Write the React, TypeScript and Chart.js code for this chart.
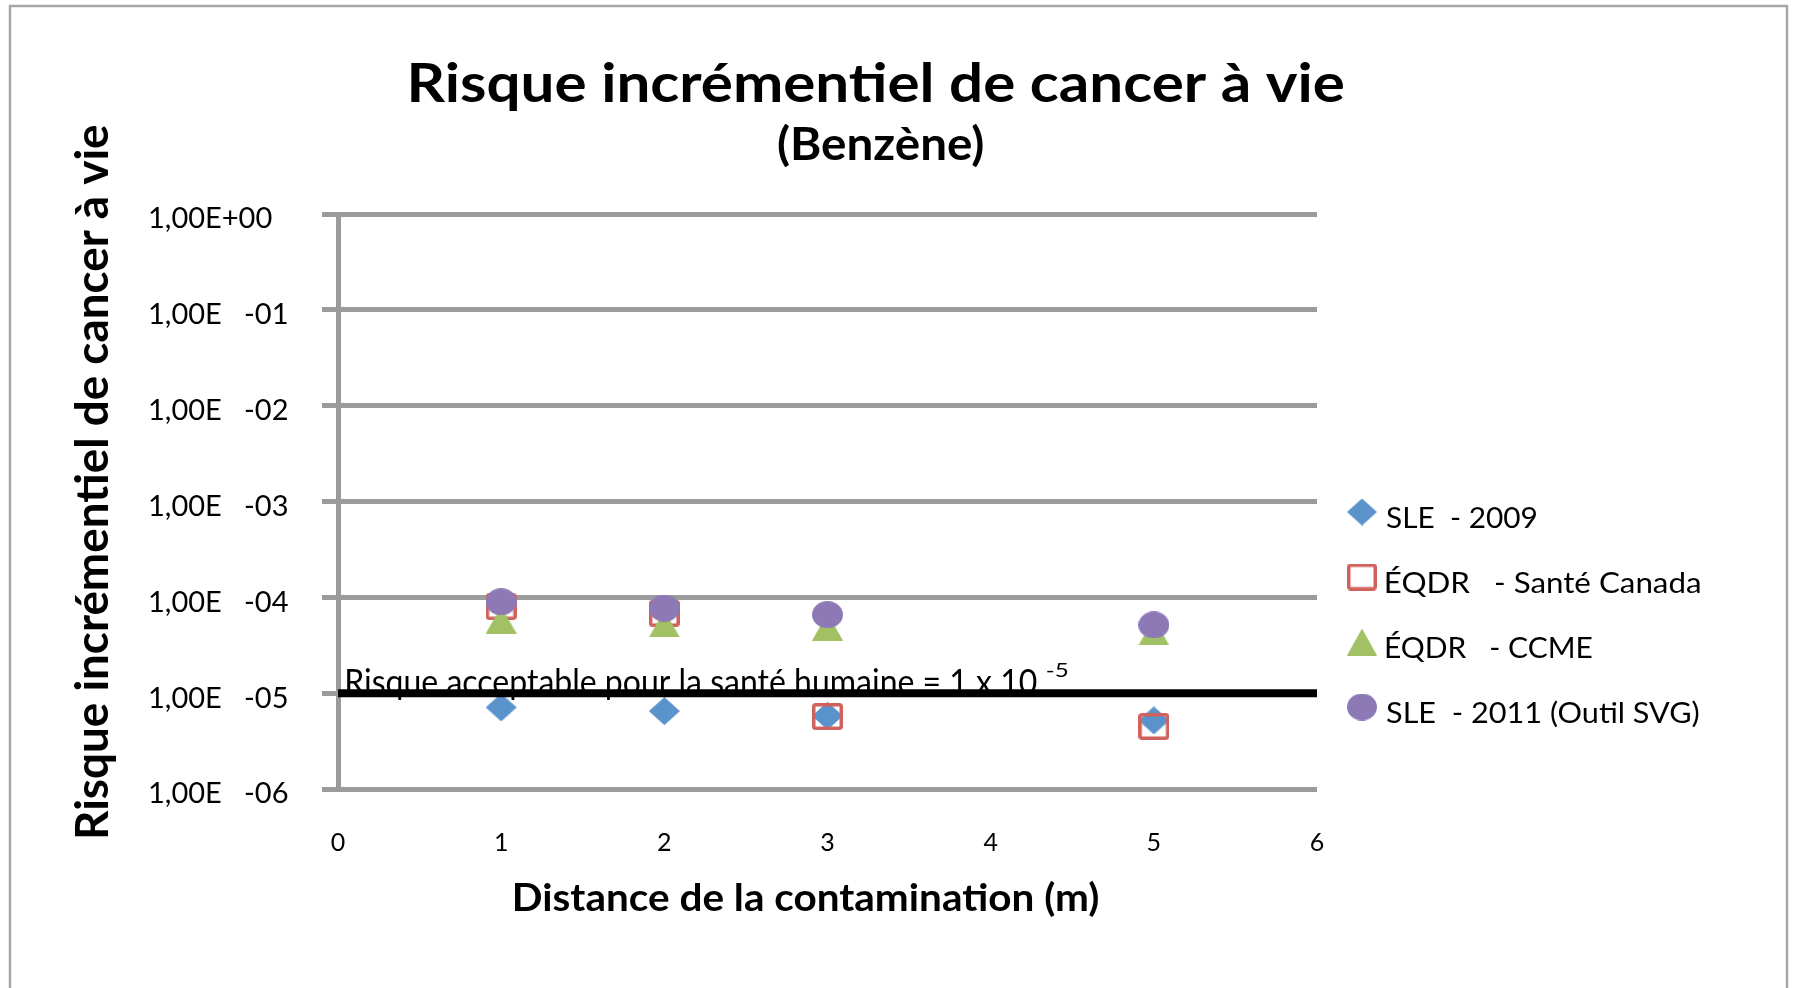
import React, { useEffect, useRef } from "react";
import { Chart, registerables } from "chart.js";

Chart.register(...registerables);

// ---------- data ----------
const distances = [1, 2, 3, 5];
const sle2009 = [7.1e-6, 6.5e-6, 5.8e-6, 5.2e-6];
const eqdrSanteCanada = [8.0e-5, 6.8e-5, 5.7e-6, 4.5e-6];
const eqdrCcme = [5.8e-5, 5.3e-5, 4.9e-5, 4.35e-5];
const sle2011 = [9.0e-5, 7.7e-5, 6.6e-5, 5.15e-5];
const acceptableRisk = 1e-5;

const seriesNames = [
  "SLE  - 2009",
  "ÉQDR   - Santé Canada",
  "ÉQDR   - CCME",
  "SLE  - 2011 (Outil SVG)",
];
const legendTextWidths = [150, 314, 206, 313];
const yTickValues = [1e-6, 1e-5, 1e-4, 1e-3, 1e-2, 1e-1, 1];
const yTickLabels = [
  "1,00E   -06",
  "1,00E   -05",
  "1,00E   -04",
  "1,00E   -03",
  "1,00E   -02",
  "1,00E   -01",
  "1,00E+00",
];
const xMin = 0;
const xMax = 6;

const TITLE = "Risque incrémentiel de cancer à vie";
const SUBTITLE = "(Benzène)";
const X_TITLE = "Distance de la contamination (m)";
const Y_TITLE = "Risque incrémentiel de cancer à vie";
const REF_LABEL = "Risque acceptable pour la santé humaine = 1 x 10";
const REF_EXP = "-5";

// ---------- styles ----------
const COLORS = ["#5A92CC", "#D0625D", "#A2C165", "#8D79B6"];
const GRID = "#9B9B9B";
const FONT = "Lato";

type Kind = "diamond" | "square" | "triangle" | "ellipse";
const KINDS: Kind[] = ["diamond", "square", "triangle", "ellipse"];

function makeMarker(kind: Kind, color: string, w: number, h: number): HTMLCanvasElement {
  const c = document.createElement("canvas");
  c.width = w;
  c.height = h;
  const ctx = c.getContext("2d")!;
  ctx.fillStyle = color;
  ctx.strokeStyle = color;
  ctx.beginPath();
  if (kind === "diamond") {
    ctx.moveTo(w / 2, 0);
    ctx.lineTo(w, h / 2);
    ctx.lineTo(w / 2, h);
    ctx.lineTo(0, h / 2);
    ctx.closePath();
    ctx.fill();
  } else if (kind === "triangle") {
    ctx.moveTo(w / 2, 0);
    ctx.lineTo(w, h);
    ctx.lineTo(0, h);
    ctx.closePath();
    ctx.fill();
  } else if (kind === "ellipse") {
    ctx.ellipse(w / 2, h / 2, w / 2, h / 2, 0, 0, Math.PI * 2);
    ctx.fill();
  } else {
    const lw = 3.5;
    ctx.lineWidth = lw;
    const r = 2;
    const x0 = lw / 2, y0 = lw / 2, x1 = w - lw / 2, y1 = h - lw / 2;
    ctx.moveTo(x0 + r, y0);
    ctx.lineTo(x1 - r, y0);
    ctx.quadraticCurveTo(x1, y0, x1, y0 + r);
    ctx.lineTo(x1, y1 - r);
    ctx.quadraticCurveTo(x1, y1, x1 - r, y1);
    ctx.lineTo(x0 + r, y1);
    ctx.quadraticCurveTo(x0, y1, x0, y1 - r);
    ctx.lineTo(x0, y0 + r);
    ctx.quadraticCurveTo(x0, y0, x0 + r, y0);
    ctx.closePath();
    ctx.stroke();
  }
  return c;
}

// draw text so its ink starts at x and spans targetW horizontally
function drawFitted(
  ctx: CanvasRenderingContext2D,
  text: string,
  x: number,
  y: number,
  targetW: number,
  font: string
) {
  ctx.save();
  ctx.font = font;
  ctx.textAlign = "left";
  ctx.textBaseline = "alphabetic";
  const m = ctx.measureText(text);
  const ink = m.actualBoundingBoxLeft + m.actualBoundingBoxRight;
  const s = ink > 0 ? targetW / ink : 1;
  ctx.translate(x + m.actualBoundingBoxLeft * s, y);
  ctx.scale(s, 1);
  ctx.fillStyle = "#000";
  ctx.fillText(text, 0, 0);
  ctx.restore();
}

export default function App() {
  const canvasRef = useRef<HTMLCanvasElement | null>(null);

  useEffect(() => {
    let chart: Chart | null = null;
    let cancelled = false;

    const build = () => {
      if (cancelled || !canvasRef.current) return;
      const markers = KINDS.map((k, i) =>
        makeMarker(k, COLORS[i], 31, k === "diamond" ? 28 : 27)
      );
      const legendMarkers = KINDS.map((k, i) => makeMarker(k, COLORS[i], 30, 27));
      const seriesValues = [sle2009, eqdrSanteCanada, eqdrCcme, sle2011];

      const decor = {
        id: "decor",
        beforeDraw(c: any) {
          const ctx: CanvasRenderingContext2D = c.ctx;
          ctx.save();
          ctx.fillStyle = "#fff";
          ctx.fillRect(0, 0, c.width, c.height);
          ctx.strokeStyle = "#A6A6A6";
          ctx.lineWidth = 2.5;
          ctx.strokeRect(10, 6, 1777, 1100);
          ctx.restore();
        },
        afterDraw(c: any) {
          const ctx: CanvasRenderingContext2D = c.ctx;
          drawFitted(ctx, TITLE, 411, 102, 933, `bold 54px ${FONT}`);
          drawFitted(ctx, SUBTITLE, 778, 160, 205, `bold 45px ${FONT}`);
          drawFitted(ctx, X_TITLE, 515, 911, 584, `bold 38px ${FONT}`);
          ctx.save();
          ctx.translate(108, 837);
          ctx.rotate(-Math.PI / 2);
          drawFitted(ctx, Y_TITLE, 0, 0, 712, `bold 46px ${FONT}`);
          ctx.restore();

          const yRef = c.scales.y.getPixelForValue(acceptableRisk);
          drawFitted(ctx, REF_LABEL, 347, yRef + 1, 690, `35px ${FONT}`);
          drawFitted(ctx, REF_EXP, 1047, yRef - 16, 21, `20px ${FONT}`);

          // legend
          for (let i = 0; i < seriesNames.length; i++) {
            const cy = 512 + 65 * i;
            const m = legendMarkers[i];
            ctx.drawImage(m, 1362 - m.width / 2, cy - m.height / 2);
            drawFitted(ctx, seriesNames[i], 1386, cy + 16, legendTextWidths[i], `29px ${FONT}`);
          }
        },
      };

      chart = new Chart(canvasRef.current, {
        type: "scatter",
        data: {
          datasets: [
            {
              type: "line",
              label: "Risque acceptable",
              data: [
                { x: xMin, y: acceptableRisk },
                { x: xMax, y: acceptableRisk },
              ],
              borderColor: "#000",
              borderWidth: 8,
              pointRadius: 0,
              order: 0,
            } as any,
            ...seriesValues.map((vals, i) => ({
              label: seriesNames[i],
              data: distances.map((x, j) => ({ x, y: vals[j] })),
              pointStyle: markers[i],
              pointRadius: 15,
              pointHoverRadius: 15,
              backgroundColor: COLORS[i],
              borderColor: COLORS[i],
              order: 4 - i,
            })),
          ],
        },
        options: {
          animation: false,
          responsive: false,
          devicePixelRatio: 1,
          layout: { padding: { left: 148, top: 214, right: 479, bottom: 0 } },
          plugins: {
            legend: { display: false },
            title: { display: false },
            tooltip: { enabled: false },
          },
          scales: {
            x: {
              type: "linear",
              min: xMin,
              max: xMax,
              ticks: {
                stepSize: 1,
                color: "#000",
                font: { family: FONT, size: 25 },
                padding: 39,
              },
              grid: { display: false, drawTicks: false },
              border: { display: false },
              afterFit: (s: any) => {
                s.height = 199;
              },
            },
            y: {
              type: "logarithmic",
              min: yTickValues[0],
              max: yTickValues[yTickValues.length - 1],
              afterBuildTicks: (s: any) => {
                s.ticks = yTickValues.map((v) => ({ value: v }));
              },
              ticks: {
                color: "#000",
                font: { family: FONT, size: 29 },
                crossAlign: "far",
                labelOffset: 5,
                callback: (v: any) => {
                  const idx = yTickValues.findIndex(
                    (t) => Math.abs(Math.log10(t) - Math.log10(Number(v))) < 1e-6
                  );
                  return idx >= 0 ? yTickLabels[idx] : "";
                },
              },
              grid: {
                color: GRID,
                lineWidth: 5,
                tickLength: 16,
                drawTicks: true,
              },
              border: { display: true, color: GRID, width: 5 },
              afterFit: (s: any) => {
                s.width = 338 - 148;
              },
            },
          },
        } as any,
        plugins: [decor],
      });
    };

    const fontsReady = (document as any).fonts
      ? Promise.all([
          (document as any).fonts.load(`bold 40px ${FONT}`),
          (document as any).fonts.load(`28px ${FONT}`),
        ]).catch(() => null)
      : Promise.resolve(null);
    fontsReady.then(build);

    return () => {
      cancelled = true;
      if (chart) chart.destroy();
    };
  }, []);

  return (
    <div style={{ position: "fixed", left: 0, top: 0, width: 1796, height: 988, background: "#fff" }}>
      <canvas ref={canvasRef} width={1796} height={988} style={{ display: "block" }} />
    </div>
  );
}
